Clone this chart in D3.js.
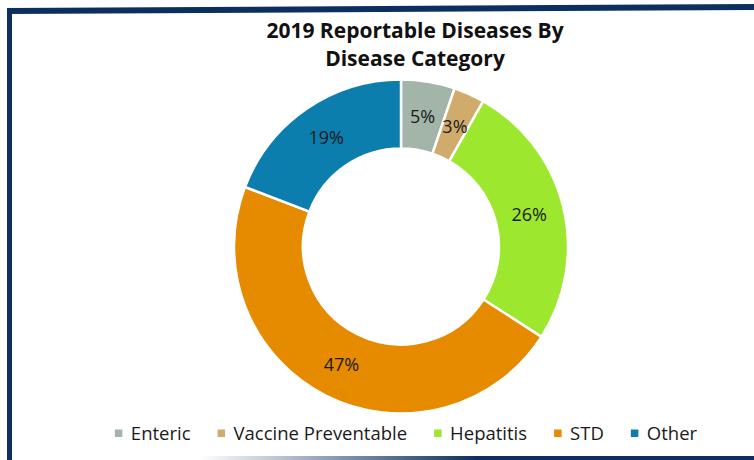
<!DOCTYPE html>
<html>
<head>
<meta charset="utf-8">
<script src="https://cdn.jsdelivr.net/npm/d3@7"></script>
<style>
html,body{margin:0;padding:0;background:#fff;}
svg{display:block;}
text{font-family:"Open Sans",sans-serif;}
</style>
</head>
<body>
<svg id="chart" width="754" height="460"></svg>
<script>
const categories = ["Enteric", "Vaccine Preventable", "Hepatitis", "STD", "Other"];
const values = [5.2, 3.0, 25.9, 46.7, 19.2];
const colors = ["#a3b4a8", "#cfac6c", "#9de82f", "#e68a00", "#0b7eae"];
const titleLines = ["2019 Reportable Diseases By", "Disease Category"];

const W = 754, H = 460;
const svg = d3.select("#chart");
const navy = "#0c2f5f";

// frame
const defs = svg.append("defs");
const g1 = defs.append("linearGradient").attr("id","botGrad").attr("x1","0").attr("x2","1");
g1.append("stop").attr("offset","0").attr("stop-color","#ffffff");
g1.append("stop").attr("offset","0.5").attr("stop-color",navy);
g1.append("stop").attr("offset","1").attr("stop-color",navy);

svg.append("polygon").attr("points","7,8 754,4 754,10 7,14").attr("fill",navy);
svg.append("rect").attr("x",7).attr("y",8).attr("width",5).attr("height",H-8).attr("fill",navy);
svg.append("rect").attr("x",200).attr("y",456).attr("width",W-200).attr("height",4).attr("fill","url(#botGrad)");

// title
const title = svg.append("text").attr("text-anchor","middle")
  .attr("font-weight","700").attr("font-size",21).attr("fill","#111");
titleLines.forEach((t,i)=>{
  title.append("tspan").attr("x",415).attr("y",38 + i*28).text(t);
});

// donut
const cx = 401, cy = 246.5, R = 167, r = 98;
const pie = d3.pie().sort(null).value(d=>d.v);
const data = categories.map((c,i)=>({c, v: values[i], col: colors[i]}));
const arcs = pie(data);
const arc = d3.arc().innerRadius(r).outerRadius(R);
const labelArc = d3.arc().innerRadius(132).outerRadius(132);
const gD = svg.append("g").attr("transform",`translate(${cx},${cy})`);
gD.selectAll("path").data(arcs).enter().append("path")
  .attr("d",arc).attr("fill",d=>d.data.col)
  .attr("stroke","#fff").attr("stroke-width",2.5).attr("stroke-linejoin","round");
gD.selectAll("text.lbl").data(arcs).enter().append("text").attr("class","lbl")
  .attr("transform",d=>`translate(${labelArc.centroid(d)})`)
  .attr("text-anchor","middle").attr("dy","0.36em")
  .attr("font-size",18).attr("fill","#1a1a1a")
  .text(d=>Math.round(d.data.v)+"%");

// legend
const leg = svg.append("g");
const sq = 7.5, gapT = 8.5, gapItem = 27;
let x = 0;
const items = [];
data.forEach((d,i)=>{
  const it = leg.append("g");
  it.append("rect").attr("x",0).attr("y",-4).attr("width",sq).attr("height",sq).attr("fill",d.col);
  const t = it.append("text").attr("x",sq+gapT).attr("y",6.5).attr("font-size",18.5).attr("fill","#1a1a1a").text(d.c);
  const w = sq+gapT+t.node().getComputedTextLength();
  items.push({it, w});
});
let total = items.reduce((s,o)=>s+o.w,0) + gapItem*(items.length-1);
x = 406 - total/2;
items.forEach(o=>{ o.it.attr("transform",`translate(${x},${433.5})`); x += o.w + gapItem; });
</script>
</body>
</html>
